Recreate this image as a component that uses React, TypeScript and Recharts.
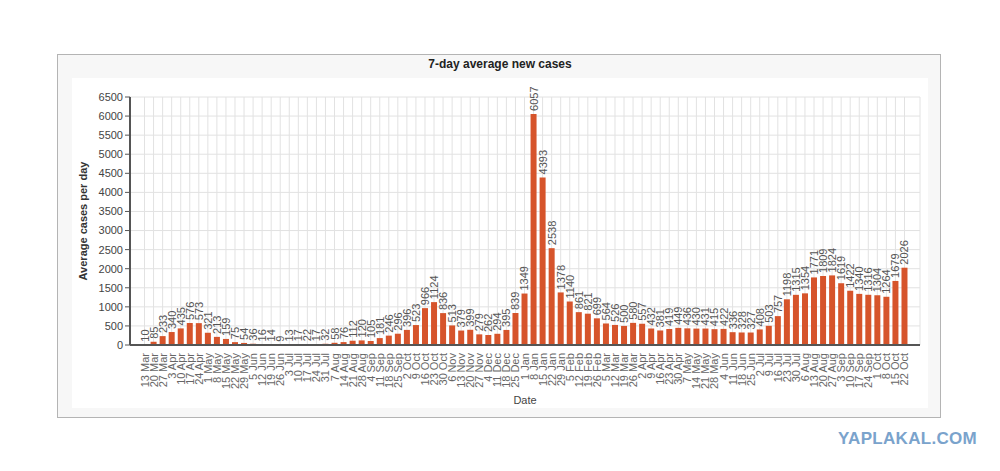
import React from "react";
import { Bar, BarChart, CartesianGrid, LabelList, XAxis, YAxis } from "recharts";

const dates = [
  "13 Mar", "20 Mar", "27 Mar", "3 Apr", "10 Apr", "17 Apr", "24 Apr", "1 May", "8 May", "15 May",
  "22 May", "29 May", "5 Jun", "12 Jun", "19 Jun", "26 Jun", "3 Jul", "10 Jul", "17 Jul", "24 Jul",
  "31 Jul", "7 Aug", "14 Aug", "21 Aug", "28 Aug", "4 Sep", "11 Sep", "18 Sep", "25 Sep", "2 Oct",
  "9 Oct", "16 Oct", "23 Oct", "30 Oct", "6 Nov", "13 Nov", "20 Nov", "27 Nov", "4 Dec", "11 Dec",
  "18 Dec", "25 Dec", "1 Jan", "8 Jan", "15 Jan", "22 Jan", "29 Jan", "5 Feb", "12 Feb", "19 Feb",
  "26 Feb", "5 Mar", "12 Mar", "19 Mar", "26 Mar", "2 Apr", "9 Apr", "16 Apr", "23 Apr", "30 Apr",
  "7 May", "14 May", "21 May", "28 May", "4 Jun", "11 Jun", "18 Jun", "25 Jun", "2 Jul", "9 Jul",
  "16 Jul", "23 Jul", "30 Jul", "6 Aug", "13 Aug", "20 Aug", "27 Aug", "3 Sep", "10 Sep", "17 Sep",
  "24 Sep", "1 Oct", "8 Oct", "15 Oct", "22 Oct"
];

const cases = [
  10, 85, 233, 340, 435, 576, 573, 321, 213, 159,
  75, 54, 36, 16, 14, 9, 13, 17, 22, 17,
  32, 58, 76, 112, 120, 105, 181, 246, 296, 396,
  523, 966, 1124, 836, 513, 379, 399, 279, 262, 294,
  395, 839, 1349, 6057, 4393, 2538, 1378, 1140, 861, 821,
  699, 564, 526, 500, 580, 557, 432, 381, 419, 449,
  436, 430, 431, 415, 422, 336, 328, 327, 408, 503,
  757, 1198, 1315, 1354, 1771, 1809, 1824, 1619, 1422, 1340,
  1316, 1304, 1264, 1679, 2026
];

const yTicks = [0, 500, 1000, 1500, 2000, 2500, 3000, 3500, 4000, 4500, 5000, 5500, 6000, 6500];

const data = dates.map((date, i) => ({ date, cases: cases[i] }));

const font = "'Liberation Sans', Arial, sans-serif";

function DateTick(props: any) {
  const { x, y, payload } = props;
  return (
    <text
      x={x}
      y={y}
      transform={`rotate(-90, ${x}, ${y})`}
      textAnchor="end"
      dominantBaseline="central"
      fontSize={11}
      fill="#666"
      fontFamily={font}
    >
      {payload.value}
    </text>
  );
}

function ValueLabel(props: any) {
  const { x, y, width, value } = props;
  const cx = x + width / 2;
  const cy = y - 3;
  return (
    <text
      x={cx}
      y={cy}
      transform={`rotate(-90, ${cx}, ${cy})`}
      textAnchor="start"
      dominantBaseline="central"
      fontSize={11}
      fill="#555"
      fontFamily={font}
    >
      {value}
    </text>
  );
}

export default function App() {
  return (
    <div style={{ position: "absolute", left: 0, top: 0, width: 1000, height: 471, background: "#fff", fontFamily: font }}>
      <div
        style={{
          position: "absolute",
          left: 57,
          top: 54,
          width: 882,
          height: 362,
          border: "1px solid #b4b4b4",
          background: "#f7f7f7"
        }}
      />
      <div style={{ position: "absolute", left: 72, top: 78, width: 856, height: 330, background: "#fff" }} />
      <div
        style={{
          position: "absolute",
          left: 0,
          width: 1000,
          top: 57,
          textAlign: "center",
          fontSize: 12,
          fontWeight: "bold",
          color: "#222"
        }}
      >
        7-day average new cases
      </div>
      <div
        style={{
          position: "absolute",
          left: 83,
          top: 221,
          transform: "translate(-50%, -50%) rotate(-90deg)",
          whiteSpace: "nowrap",
          fontSize: 11,
          fontWeight: "bold",
          color: "#333"
        }}
      >
        Average cases per day
      </div>
      <div
        style={{
          position: "absolute",
          left: 425,
          width: 200,
          top: 394,
          textAlign: "center",
          fontSize: 11,
          color: "#444"
        }}
      >
        Date
      </div>
      <div
        style={{
          position: "absolute",
          left: 838,
          top: 429,
          fontSize: 17,
          fontWeight: 900,
          color: "#7aa3cc",
          letterSpacing: 0.3
        }}
      >
        YAPLAKAL.COM
      </div>
      <div style={{ position: "absolute", left: 0, top: 0 }}>
        <BarChart
          width={1000}
          height={471}
          data={data}
          margin={{ top: 97, right: 80, bottom: 66, left: 70 }}
          barCategoryGap="17%"
        >
          <CartesianGrid stroke="#e2e2e2" />
          <XAxis
            dataKey="date"
            interval={0}
            height={60}
            tickLine={false}
            tick={<DateTick />}
            axisLine={{ stroke: "#555", strokeWidth: 2 }}
            padding={{ left: 10, right: 11 }}
          />
          <YAxis
            width={60}
            domain={[0, 6500]}
            ticks={yTicks}
            interval={0}
            tickSize={5}
            tickLine={{ stroke: "#555" }}
            axisLine={{ stroke: "#555", strokeWidth: 2 }}
            tick={{ fontSize: 11, fill: "#444", fontFamily: font }}
          />
          <Bar dataKey="cases" fill="#d6542b" isAnimationActive={false}>
            <LabelList dataKey="cases" content={<ValueLabel />} />
          </Bar>
        </BarChart>
      </div>
    </div>
  );
}
